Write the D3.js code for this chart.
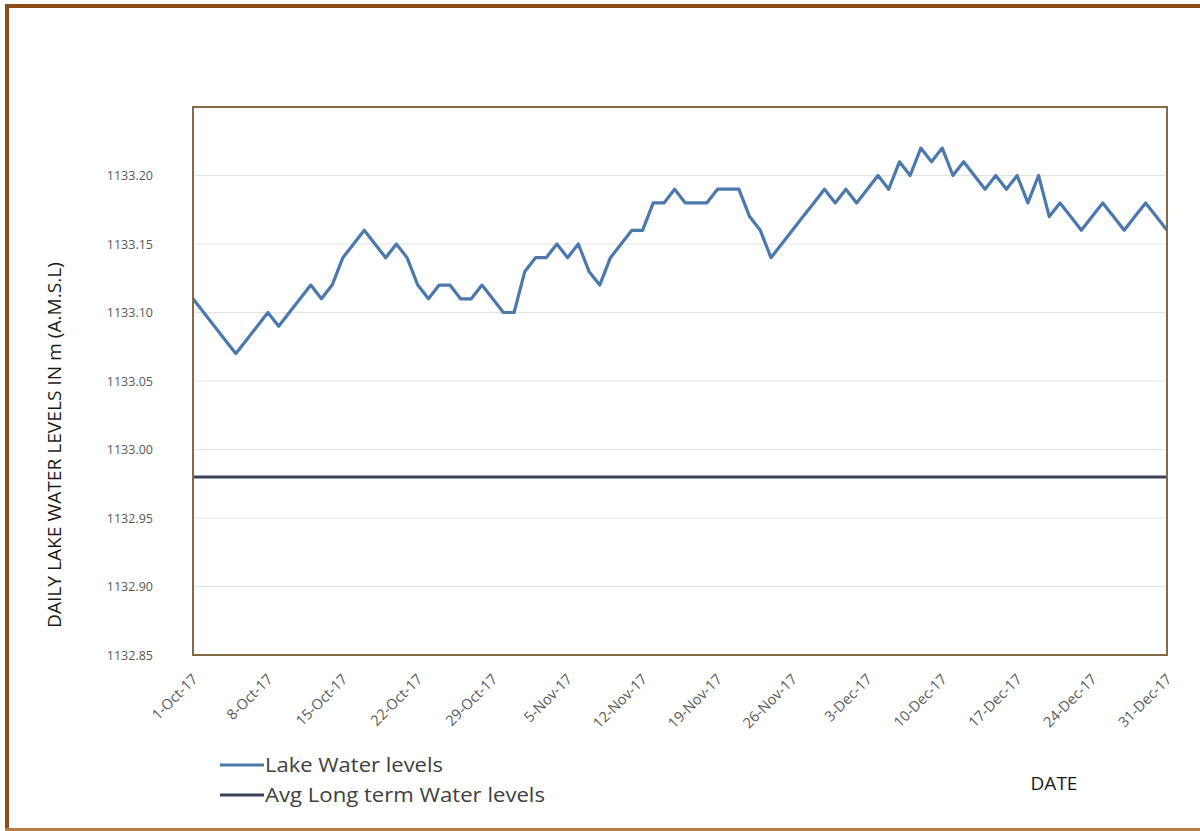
<!DOCTYPE html>
<html>
<head>
<meta charset="utf-8">
<script src="https://cdn.jsdelivr.net/npm/d3@7"></script>
<style>
  html, body { margin: 0; padding: 0; background: #ffffff; }
  svg { display: block; }
  text { font-family: "Open Sans", "Noto Sans", Arial, sans-serif; }
</style>
</head>
<body>
<svg id="chart" width="1200" height="831"></svg>
<script>
// ---- data ----
const startDate = "2017-10-01";
const lakeLevels = [
  1133.11, 1133.10, 1133.09, 1133.08, 1133.07, 1133.08, 1133.09, 1133.10, 1133.09, 1133.10,
  1133.11, 1133.12, 1133.11, 1133.12, 1133.14, 1133.15, 1133.16, 1133.15, 1133.14, 1133.15,
  1133.14, 1133.12, 1133.11, 1133.12, 1133.12, 1133.11, 1133.11, 1133.12, 1133.11, 1133.10,
  1133.10, 1133.13, 1133.14, 1133.14, 1133.15, 1133.14, 1133.15, 1133.13, 1133.12, 1133.14,
  1133.15, 1133.16, 1133.16, 1133.18, 1133.18, 1133.19, 1133.18, 1133.18, 1133.18, 1133.19,
  1133.19, 1133.19, 1133.17, 1133.16, 1133.14, 1133.15, 1133.16, 1133.17, 1133.18, 1133.19,
  1133.18, 1133.19, 1133.18, 1133.19, 1133.20, 1133.19, 1133.21, 1133.20, 1133.22, 1133.21,
  1133.22, 1133.20, 1133.21, 1133.20, 1133.19, 1133.20, 1133.19, 1133.20, 1133.18, 1133.20,
  1133.17, 1133.18, 1133.17, 1133.16, 1133.17, 1133.18, 1133.17, 1133.16, 1133.17, 1133.18,
  1133.17, 1133.16
];
const avgLongTerm = 1132.98;
const yTicks = [1132.85, 1132.90, 1132.95, 1133.00, 1133.05, 1133.10, 1133.15, 1133.20];
const xTickLabels = ["1-Oct-17","8-Oct-17","15-Oct-17","22-Oct-17","29-Oct-17","5-Nov-17","12-Nov-17",
  "19-Nov-17","26-Nov-17","3-Dec-17","10-Dec-17","17-Dec-17","24-Dec-17","31-Dec-17"];
const seriesNames = ["Lake Water levels", "Avg Long term Water levels"];
const yTitle = "DAILY LAKE WATER LEVELS IN m (A.M.S.L)";
const xTitle = "DATE";

// ---- build ----
const parseIso = d3.timeParse("%Y-%m-%d");
const parseLbl = d3.timeParse("%d-%b-%y");
const t0 = parseIso(startDate);
const lakeData = lakeLevels.map((v, i) => ({ date: d3.timeDay.offset(t0, i), value: v }));
const tickDates = xTickLabels.map(s => parseLbl(s));
const fmt = d3.timeFormat("%-d-%b-%y");

const svg = d3.select("#chart");
const W = 1200, H = 831;
const plot = { left: 193, top: 107, right: 1167, bottom: 655 };

const x = d3.scaleTime()
  .domain([lakeData[0].date, lakeData[lakeData.length - 1].date])
  .range([plot.left, plot.right]);
const y = d3.scaleLinear().domain([1132.85, 1133.25]).range([plot.bottom, plot.top]);

// background
svg.append("rect").attr("x", 0).attr("y", 0).attr("width", W).attr("height", H).attr("fill", "#ffffff");

// outer frame
svg.append("line").attr("x1", 5).attr("x2", W).attr("y1", 6).attr("y2", 6)
  .attr("stroke", "#8e4b12").attr("stroke-width", 4);
svg.append("line").attr("x1", 7).attr("x2", 7).attr("y1", 4).attr("y2", 830)
  .attr("stroke", "#8e4b12").attr("stroke-width", 4);
svg.append("line").attr("x1", 5).attr("x2", W).attr("y1", 829.5).attr("y2", 829.5)
  .attr("stroke", "#b77c4c").attr("stroke-width", 3);

// gridlines
svg.append("g").selectAll("line").data(yTicks.slice(1)).join("line")
  .attr("x1", plot.left).attr("x2", plot.right)
  .attr("y1", d => y(d)).attr("y2", d => y(d))
  .attr("stroke", "#e3e3e3").attr("stroke-width", 1.2);

// y axis labels
const yAxis = d3.axisLeft(y).tickValues(yTicks).tickFormat(d3.format(".2f")).tickSize(0).tickPadding(40);
const gy = svg.append("g").attr("transform", `translate(${plot.left},0)`).call(yAxis);
gy.select(".domain").remove();
gy.selectAll("text").attr("fill", "#595959").style("font-size", "12.5px");

// x axis labels
const xAxis = d3.axisBottom(x).tickValues(tickDates).tickFormat(fmt).tickSize(0);
const gx = svg.append("g").attr("transform", `translate(0,${plot.bottom})`).call(xAxis);
gx.select(".domain").remove();
gx.selectAll("text")
  .attr("fill", "#595959").style("font-size", "14.5px")
  .attr("text-anchor", "end")
  .attr("dx", "0").attr("dy", "0")
  .attr("transform", "translate(3,23) rotate(-45)");

// avg line
svg.append("line")
  .attr("x1", plot.left).attr("x2", plot.right)
  .attr("y1", y(avgLongTerm)).attr("y2", y(avgLongTerm))
  .attr("stroke", "#3c3f5a").attr("stroke-width", 3);

// lake line
const line = d3.line().x(d => x(d.date)).y(d => y(d.value));
svg.append("path").datum(lakeData)
  .attr("d", line).attr("fill", "none")
  .attr("stroke", "#4b79ae").attr("stroke-width", 3.2).attr("stroke-linejoin", "round");

// plot border
svg.append("rect")
  .attr("x", plot.left).attr("y", plot.top)
  .attr("width", plot.right - plot.left).attr("height", plot.bottom - plot.top)
  .attr("fill", "none").attr("stroke", "#856a45").attr("stroke-width", 2);

// y title
svg.append("text")
  .attr("transform", `translate(61,${(262 + 628) / 2}) rotate(-90)`)
  .attr("text-anchor", "middle").attr("fill", "#1a1a1a")
  .style("font-size", "18px")
  .attr("textLength", 366).attr("lengthAdjust", "spacingAndGlyphs")
  .text(yTitle);

// x title
svg.append("text").attr("x", 1054).attr("y", 790).attr("text-anchor", "middle")
  .attr("fill", "#1a1a1a").style("font-size", "19px").text(xTitle);

// legend
const legendColors = ["#4b79ae", "#3c3f5a"];
const legendWidths = [178, 280];
const lg = svg.append("g");
seriesNames.forEach((name, i) => {
  const ly = 765 + i * 30;
  lg.append("line").attr("x1", 220).attr("x2", 264).attr("y1", ly).attr("y2", ly)
    .attr("stroke", legendColors[i]).attr("stroke-width", 3);
  lg.append("text").attr("x", 265).attr("y", ly + 7)
    .attr("fill", "#404040").style("font-size", "20px")
    .attr("textLength", legendWidths[i]).attr("lengthAdjust", "spacingAndGlyphs")
    .text(name);
});
</script>
</body>
</html>
